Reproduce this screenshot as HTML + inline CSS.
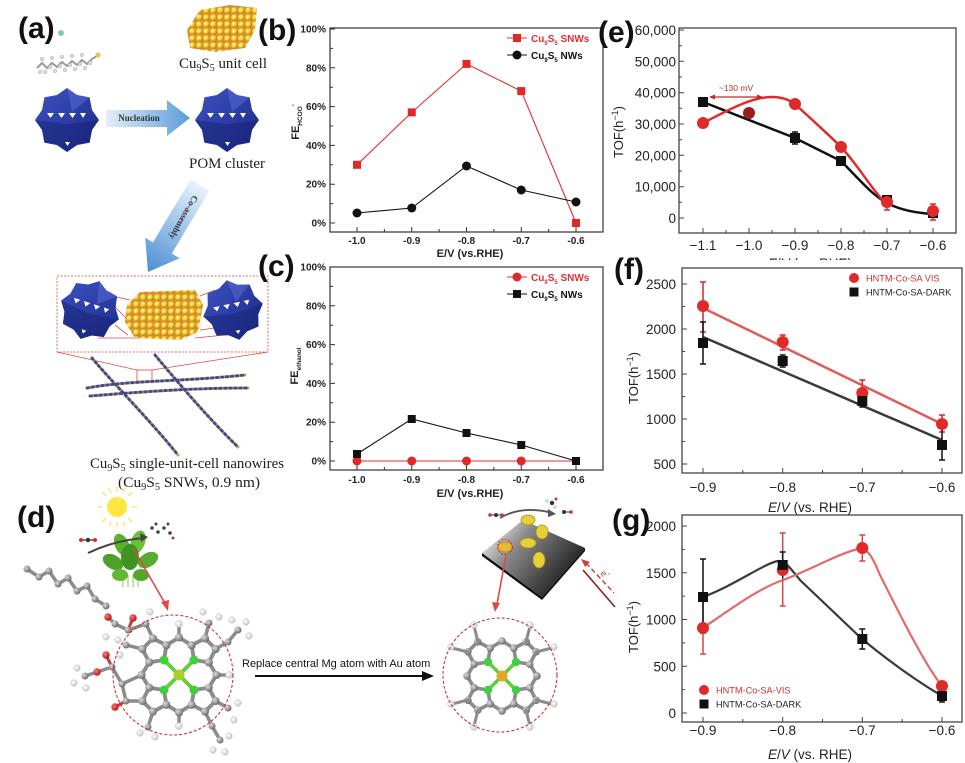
<!DOCTYPE html>
<html><head><meta charset="utf-8">
<style>
html,body{margin:0;padding:0;background:#fff;}
svg{display:block;}
text{font-family:"Liberation Sans",Arial,sans-serif;}
.serif{font-family:"Liberation Serif","Times New Roman",serif;}
</style></head><body>
<svg width="965" height="763" viewBox="0 0 965 763" xmlns="http://www.w3.org/2000/svg">
<defs>
 <radialGradient id="ys" cx="0.35" cy="0.35" r="0.7">
  <stop offset="0" stop-color="#fff7a8"/><stop offset="0.55" stop-color="#f0c428"/><stop offset="1" stop-color="#b87414"/>
 </radialGradient>
 <pattern id="cell" width="7" height="7" patternUnits="userSpaceOnUse">
  <rect width="7" height="7" fill="#d8902e"/>
  <circle cx="3.5" cy="3.5" r="3.4" fill="url(#ys)"/>
 </pattern>
 <linearGradient id="pom" x1="0" y1="0" x2="1" y2="1">
  <stop offset="0" stop-color="#3d52c4"/><stop offset="1" stop-color="#1b2886"/>
 </linearGradient>
 <linearGradient id="arrH" x1="0" y1="0" x2="1" y2="0">
  <stop offset="0" stop-color="#e6eff9"/><stop offset="1" stop-color="#5b9bd8"/>
 </linearGradient>
 <linearGradient id="arrD" x1="200" y1="185" x2="148" y2="272" gradientUnits="userSpaceOnUse">
  <stop offset="0" stop-color="#eaf2fb"/><stop offset="1" stop-color="#4a8fd6"/>
 </linearGradient>
 <radialGradient id="ga" cx="0.35" cy="0.35" r="0.7"><stop offset="0" stop-color="#dcdcdc"/><stop offset="1" stop-color="#666"/></radialGradient>
 <radialGradient id="gw" cx="0.35" cy="0.35" r="0.7"><stop offset="0" stop-color="#fff"/><stop offset="1" stop-color="#c8c8c8"/></radialGradient>
 <radialGradient id="gr" cx="0.35" cy="0.35" r="0.7"><stop offset="0" stop-color="#ff7a7a"/><stop offset="1" stop-color="#b01010"/></radialGradient>
 <linearGradient id="plate" x1="490" y1="525" x2="565" y2="585" gradientUnits="userSpaceOnUse">
  <stop offset="0" stop-color="#f0f0f0"/><stop offset="0.35" stop-color="#8a8a8a"/><stop offset="1" stop-color="#1e1e1e"/>
 </linearGradient>
 <g id="star">
  <polygon points="32,0 25,10 22.6,22.6 10,25 0,32 -10,25 -22.6,22.6 -25,10 -32,0 -25,-10 -22.6,-22.6 -10,-25 0,-32 10,-25 22.6,-22.6 25,-10" fill="url(#pom)"/>
  <polygon points="-32,0 -25,10 -22.6,22.6 -10,25 0,32 10,25 22.6,22.6 25,10 32,0 0,4" fill="#1a2578" opacity="0.55"/>
  <polygon points="0,-32 10,-25 22.6,-22.6 5,-8" fill="#5a6ed8" opacity="0.5"/>
  <g fill="#fff">
   <path d="M-20,-7 L-13,-7 L-16.5,-2 Z M-9,-7 L-2,-7 L-5.5,-2 Z M2,-7 L9,-7 L5.5,-2 Z M13,-7 L19,-7 L16,-2 Z M-2,22 L3,22 L0.5,26 Z"/>
  </g>
 </g>
 <g id="por">
  <g stroke="#8c8c8c" stroke-width="0.26" fill="none" stroke-linejoin="round">
   <path d="M1,-1 L0.843,-1.986 L1.733,-2.44 L2.44,-1.733 L1.986,-0.843 Z M0.843,-1.986 L0,-2.5 M1.986,-0.843 L2.5,0"/>
   <path d="M-1,-1 L-0.843,-1.986 L-1.733,-2.44 L-2.44,-1.733 L-1.986,-0.843 Z M-0.843,-1.986 L0,-2.5 M-1.986,-0.843 L-2.5,0"/>
   <path d="M1,1 L0.843,1.986 L1.733,2.44 L2.44,1.733 L1.986,0.843 Z M0.843,1.986 L0,2.5 M1.986,0.843 L2.5,0"/>
   <path d="M-1,1 L-0.843,1.986 L-1.733,2.44 L-2.44,1.733 L-1.986,0.843 Z M-0.843,1.986 L0,2.5 M-1.986,0.843 L-2.5,0"/>
  </g>
  <path d="M0,0 L1,-1 M0,0 L-1,-1 M0,0 L1,1 M0,0 L-1,1" stroke="#66cc44" stroke-width="0.26"/>
  <g fill="url(#ga)">
   <circle cx="0.843" cy="-1.986" r="0.27"/><circle cx="1.986" cy="-0.843" r="0.27"/><circle cx="1.733" cy="-2.44" r="0.27"/><circle cx="2.44" cy="-1.733" r="0.27"/>
   <circle cx="-0.843" cy="-1.986" r="0.27"/><circle cx="-1.986" cy="-0.843" r="0.27"/><circle cx="-1.733" cy="-2.44" r="0.27"/><circle cx="-2.44" cy="-1.733" r="0.27"/>
   <circle cx="0.843" cy="1.986" r="0.27"/><circle cx="1.986" cy="0.843" r="0.27"/><circle cx="1.733" cy="2.44" r="0.27"/><circle cx="2.44" cy="1.733" r="0.27"/>
   <circle cx="-0.843" cy="1.986" r="0.27"/><circle cx="-1.986" cy="0.843" r="0.27"/><circle cx="-1.733" cy="2.44" r="0.27"/><circle cx="-2.44" cy="1.733" r="0.27"/>
   <circle cx="0" cy="-2.5" r="0.27"/><circle cx="2.5" cy="0" r="0.27"/><circle cx="0" cy="2.5" r="0.27"/><circle cx="-2.5" cy="0" r="0.27"/>
  </g>
  <g fill="#3fd040">
   <circle cx="1" cy="-1" r="0.3"/><circle cx="-1" cy="-1" r="0.3"/><circle cx="1" cy="1" r="0.3"/><circle cx="-1" cy="1" r="0.3"/>
  </g>
 </g>
</defs>
<rect width="965" height="763" fill="#fff"/>

<!-- ================= PANEL A ================= -->
<text x="18" y="38" font-size="30" font-weight="bold" fill="#111">(a)</text>
<circle cx="61" cy="33" r="3" fill="#7fc8c0"/>
<polyline points="37,68 42,63 47,68 52,63 57,67 62,62 67,66 72,61 77,65 82,60 87,64 92,59 97,56" fill="none" stroke="#9a9a9a" stroke-width="2"/>
<g fill="#ddd" stroke="#999" stroke-width="0.4">
 <circle cx="40" cy="72" r="1.8"/><circle cx="45" cy="72" r="1.8"/><circle cx="50" cy="67" r="1.8"/><circle cx="55" cy="71" r="1.8"/><circle cx="60" cy="66" r="1.8"/><circle cx="65" cy="70" r="1.8"/><circle cx="70" cy="65" r="1.8"/><circle cx="75" cy="69" r="1.8"/><circle cx="80" cy="64" r="1.8"/><circle cx="85" cy="68" r="1.8"/><circle cx="90" cy="63" r="1.8"/>
 <circle cx="42" cy="59" r="1.8"/><circle cx="52" cy="58" r="1.8"/><circle cx="62" cy="57" r="1.8"/><circle cx="72" cy="56" r="1.8"/><circle cx="82" cy="55" r="1.8"/>
</g>
<circle cx="98" cy="55" r="2.6" fill="#d8d040"/>

<path d="M187,30 L200,10 L230,5 L257,8 L255,30 L245,48 L215,52 L190,48 Z" fill="url(#cell)"/>
<text class="serif" x="179" y="68" font-size="15" textLength="88" lengthAdjust="spacingAndGlyphs" fill="#222">Cu<tspan font-size="10" dy="3">9</tspan><tspan dy="-3">S</tspan><tspan font-size="10" dy="3">5</tspan><tspan dy="-3"> unit cell</tspan></text>

<use href="#star" transform="translate(67,120)"/>
<use href="#star" transform="translate(227,120)"/>
<polygon points="106,110 167,110 167,100 190,118 167,136 167,127 106,127" fill="url(#arrH)"/>
<text class="serif" x="139" y="121" font-size="9" font-weight="bold" text-anchor="middle" fill="#333">Nucleation</text>
<text class="serif" x="227" y="168" font-size="15" text-anchor="middle" textLength="76" lengthAdjust="spacingAndGlyphs" fill="#222">POM cluster</text>

<polygon points="190.6,179.4 209.4,190.6 171.8,253.6 179.6,258.3 148,272 145.2,237.7 153,242.4" fill="url(#arrD)"/>
<text class="serif" transform="translate(181,216) rotate(120)" font-size="9" font-weight="bold" text-anchor="middle" fill="#333">Co-assembly</text>

<rect x="57" y="276" width="211" height="76" fill="none" stroke="#e06a6a" stroke-width="1" stroke-dasharray="2 1.5"/>
<g stroke="#e04848" stroke-width="0.8" fill="none">
 <path d="M112,296 L130,300 M115,325 L128,335 M98,338 L140,338 M200,296 L215,290 M200,330 L215,328 M195,338 L225,335 M108,300 L126,318"/>
 <path d="M57,352 L137,370 M268,352 L152,370"/>
 <rect x="137" y="370" width="15" height="11"/>
</g>
<use href="#star" transform="translate(90,310) rotate(18) scale(0.95)"/>
<use href="#star" transform="translate(233,310) rotate(-12) scale(0.95)"/>
<path d="M127,305 L140,292 L195,290 L203,305 L198,332 L180,340 L135,338 L125,322 Z" fill="url(#cell)"/>

<g fill="none" stroke-linecap="round">
 <g stroke="#c9a24a" stroke-width="3">
  <path d="M92,358 C110,380 150,420 178,455"/>
  <path d="M155,355 C180,385 210,420 238,447"/>
  <path d="M87,388 C130,380 180,382 245,375"/>
  <path d="M90,396 C140,392 190,388 248,388"/>
 </g>
 <g stroke="#3a4a9a" stroke-width="2.8" stroke-dasharray="1.5 3.5">
  <path d="M92,358 C110,380 150,420 178,455"/>
  <path d="M155,355 C180,385 210,420 238,447"/>
  <path d="M87,388 C130,380 180,382 245,375"/>
  <path d="M90,396 C140,392 190,388 248,388"/>
 </g>
</g>
<text class="serif" x="90" y="468" font-size="15" textLength="194" lengthAdjust="spacingAndGlyphs" fill="#222">Cu<tspan font-size="10" dy="3">9</tspan><tspan dy="-3">S</tspan><tspan font-size="10" dy="3">5</tspan><tspan dy="-3"> single-unit-cell nanowires</tspan></text>
<text class="serif" x="118" y="487" font-size="15" textLength="142" lengthAdjust="spacingAndGlyphs" fill="#222">(Cu<tspan font-size="10" dy="3">9</tspan><tspan dy="-3">S</tspan><tspan font-size="10" dy="3">5</tspan><tspan dy="-3"> SNWs, 0.9 nm)</tspan></text>

<!-- ================= PANEL B ================= -->
<text x="258" y="40" font-size="30" font-weight="bold" fill="#111">(b)</text>
<rect x="330" y="28" width="273" height="204" fill="none" stroke="#333" stroke-width="1.2"/>
<g stroke="#333" stroke-width="1">
 <path d="M330,223h5 M330,184.2h5 M330,145.4h5 M330,106.6h5 M330,67.8h5 M330,29h5 M330,203.6h3 M330,164.8h3 M330,126h3 M330,87.2h3 M330,48.4h3"/>
 <path d="M357,232v-5 M411.75,232v-5 M466.5,232v-5 M521.25,232v-5 M576,232v-5 M384.4,232v-3 M439.1,232v-3 M493.9,232v-3 M548.6,232v-3"/>
</g>
<g font-size="10" font-weight="bold" fill="#222" text-anchor="end">
 <text x="326" y="226.5">0%</text><text x="326" y="187.7">20%</text><text x="326" y="148.9">40%</text><text x="326" y="110.1">60%</text><text x="326" y="71.3">80%</text><text x="326" y="32.5">100%</text>
</g>
<g font-size="10" font-weight="bold" fill="#222" text-anchor="middle">
 <text x="357" y="244">-1.0</text><text x="411.75" y="244">-0.9</text><text x="466.5" y="244">-0.8</text><text x="521.25" y="244">-0.7</text><text x="576" y="244">-0.6</text>
</g>
<text x="470" y="257" font-size="11" font-weight="bold" text-anchor="middle" fill="#222">E/V (vs.RHE)</text>
<text transform="translate(299,122) rotate(-90)" font-size="11" font-weight="bold" text-anchor="middle" fill="#222">FE<tspan font-size="6.5" dy="3">HCOO</tspan><tspan font-size="6" dy="-7">-</tspan></text>
<polyline points="357,164.8 411.75,112.4 466.5,63.9 521.25,91.1 576,223" fill="none" stroke="#e03030" stroke-width="1.1"/>
<polyline points="357,213 411.75,208 466.5,166 521.25,190 576,202" fill="none" stroke="#111" stroke-width="1.1"/>
<g fill="#e02828">
 <rect x="353" y="160.8" width="8" height="8"/><rect x="407.75" y="108.4" width="8" height="8"/><rect x="462.5" y="59.9" width="8" height="8"/><rect x="517.25" y="87.1" width="8" height="8"/><rect x="572" y="219" width="8" height="8"/>
</g>
<g fill="#111">
 <circle cx="357" cy="213" r="4.5"/><circle cx="411.75" cy="208" r="4.5"/><circle cx="466.5" cy="166" r="4.5"/><circle cx="521.25" cy="190" r="4.5"/><circle cx="576" cy="202" r="4.5"/>
</g>
<line x1="507" y1="38" x2="527" y2="38" stroke="#e03030" stroke-width="1.1"/>
<rect x="513" y="34" width="8" height="8" fill="#e02828"/>
<text x="531" y="42" font-size="10" font-weight="bold" fill="#e03030">Cu<tspan font-size="6" dy="3">9</tspan><tspan dy="-3">S</tspan><tspan font-size="6" dy="3">5</tspan><tspan dy="-3"> SNWs</tspan></text>
<line x1="507" y1="55" x2="527" y2="55" stroke="#111" stroke-width="1.1"/>
<circle cx="517" cy="55" r="4.5" fill="#111"/>
<text x="531" y="59" font-size="10" font-weight="bold" fill="#111">Cu<tspan font-size="6" dy="3">9</tspan><tspan dy="-3">S</tspan><tspan font-size="6" dy="3">5</tspan><tspan dy="-3"> NWs</tspan></text>

<!-- ================= PANEL C ================= -->
<text x="258" y="276" font-size="30" font-weight="bold" fill="#111">(c)</text>
<rect x="330" y="267" width="273" height="203" fill="none" stroke="#333" stroke-width="1.2"/>
<g stroke="#333" stroke-width="1">
 <path d="M330,461h5 M330,422.2h5 M330,383.4h5 M330,344.6h5 M330,305.8h5 M330,441.6h3 M330,402.8h3 M330,364h3 M330,325.2h3 M330,286.4h3"/>
 <path d="M357,470v-5 M411.75,470v-5 M466.5,470v-5 M521.25,470v-5 M576,470v-5 M384.4,470v-3 M439.1,470v-3 M493.9,470v-3 M548.6,470v-3"/>
</g>
<g font-size="10" font-weight="bold" fill="#222" text-anchor="end">
 <text x="326" y="464.5">0%</text><text x="326" y="425.7">20%</text><text x="326" y="386.9">40%</text><text x="326" y="348.1">60%</text><text x="326" y="309.3">80%</text><text x="326" y="270.5">100%</text>
</g>
<g font-size="10" font-weight="bold" fill="#222" text-anchor="middle">
 <text x="357" y="483">-1.0</text><text x="411.75" y="483">-0.9</text><text x="466.5" y="483">-0.8</text><text x="521.25" y="483">-0.7</text><text x="576" y="483">-0.6</text>
</g>
<text x="470" y="497" font-size="11" font-weight="bold" text-anchor="middle" fill="#222">E/V (vs.RHE)</text>
<text transform="translate(298,366) rotate(-90)" font-size="11" font-weight="bold" text-anchor="middle" fill="#222">FE<tspan font-size="6.5" dy="3">ethanol</tspan></text>
<line x1="357" y1="461" x2="576" y2="461" stroke="#e03030" stroke-width="1.1"/>
<polyline points="357,454 411.75,419 466.5,433 521.25,445 576,461" fill="none" stroke="#111" stroke-width="1.1"/>
<g fill="#e02828">
 <circle cx="357" cy="461" r="4.5"/><circle cx="411.75" cy="461" r="4.5"/><circle cx="466.5" cy="461" r="4.5"/><circle cx="521.25" cy="461" r="4.5"/>
</g>
<g fill="#111">
 <rect x="353" y="450" width="8" height="8"/><rect x="407.75" y="415" width="8" height="8"/><rect x="462.5" y="429" width="8" height="8"/><rect x="517.25" y="441" width="8" height="8"/><rect x="572" y="457" width="8" height="8"/>
</g>
<line x1="507" y1="277" x2="527" y2="277" stroke="#e03030" stroke-width="1.1"/>
<circle cx="517" cy="277" r="4.5" fill="#e02828"/>
<text x="531" y="281" font-size="10" font-weight="bold" fill="#e03030">Cu<tspan font-size="6" dy="3">9</tspan><tspan dy="-3">S</tspan><tspan font-size="6" dy="3">5</tspan><tspan dy="-3"> SNWs</tspan></text>
<line x1="507" y1="294" x2="527" y2="294" stroke="#111" stroke-width="1.1"/>
<rect x="513" y="290" width="8" height="8" fill="#111"/>
<text x="531" y="298" font-size="10" font-weight="bold" fill="#111">Cu<tspan font-size="6" dy="3">9</tspan><tspan dy="-3">S</tspan><tspan font-size="6" dy="3">5</tspan><tspan dy="-3"> NWs</tspan></text>

<!-- ================= PANEL E ================= -->
<text x="810" y="268" font-size="13.5" text-anchor="middle" fill="#222"><tspan font-style="italic">E</tspan>/<tspan font-style="italic">V</tspan> (vs. RHE)</text>
<rect x="640" y="260" width="325" height="14" fill="#fff"/>
<text x="598" y="42" font-size="30" font-weight="bold" fill="#111">(e)</text>
<rect x="679" y="28" width="277" height="205" fill="none" stroke="#444" stroke-width="1.3"/>
<g stroke="#444" stroke-width="1">
 <path d="M679,218h5 M679,186.7h5 M679,155.3h5 M679,124h5 M679,92.7h5 M679,61.3h5 M679,30h5 M679,202.3h3 M679,171h3 M679,139.7h3 M679,108.3h3 M679,77h3 M679,45.7h3"/>
 <path d="M703,233v-5 M749,233v-5 M795,233v-5 M841,233v-5 M887,233v-5 M933,233v-5 M726,233v-3 M772,233v-3 M818,233v-3 M864,233v-3 M910,233v-3"/>
</g>
<g font-size="13.5" fill="#222" text-anchor="end">
 <text x="676" y="223">0</text><text x="676" y="191.7">10,000</text><text x="676" y="160.3">20,000</text><text x="676" y="129">30,000</text><text x="676" y="97.7">40,000</text><text x="676" y="66.3">50,000</text><text x="676" y="35">60,000</text>
</g>
<g font-size="13.5" fill="#222" text-anchor="middle">
 <text x="703" y="250">−1.1</text><text x="749" y="250">−1.0</text><text x="795" y="250">−0.9</text><text x="841" y="250">−0.8</text><text x="887" y="250">−0.7</text><text x="933" y="250">−0.6</text>
</g>
<text transform="translate(623,132) rotate(-90)" font-size="13" text-anchor="middle" fill="#222">TOF(h<tspan font-size="9" dy="-5">−1</tspan><tspan dy="5">)</tspan></text>
<path d="M703,102 L795,138 L841,161 C860,180 872,195 887,203 C900,210 915,213 933,214" fill="none" stroke="#111" stroke-width="2.5"/>
<path d="M703,123 C725,112 750,97 772,97 C782,97 790,100 796,105 C810,118 828,134 841,147 C858,165 872,190 887,205" fill="none" stroke="#e02a2a" stroke-width="2.5"/>
<g stroke="#d03030" stroke-width="1.5"><path d="M887,196v14 M884,196h6 M884,210h6 M933,204v16 M930,204h6 M930,220h6"/></g>
<g stroke="#111" stroke-width="1.5"><path d="M795,132v12 M792,132h6 M792,144h6"/></g>
<g fill="#111">
 <rect x="698" y="97" width="10" height="10"/><rect x="790" y="133" width="10" height="10"/><rect x="836" y="156" width="10" height="10"/><rect x="882" y="195" width="10" height="10"/><rect x="928" y="208" width="10" height="10"/>
</g>
<g fill="#e02a2a">
 <circle cx="703" cy="123" r="6"/><circle cx="795" cy="104" r="6"/><circle cx="841" cy="147" r="6"/><circle cx="887" cy="202" r="6"/><circle cx="933" cy="211" r="6"/>
</g>
<circle cx="749" cy="113" r="6" fill="#9a1c1c"/>
<g stroke="#c02828" stroke-width="1.2" fill="#c02828">
 <line x1="712" y1="97" x2="760" y2="97"/>
 <path d="M709,97 L715,94.5 L715,99.5 Z M763,97 L757,94.5 L757,99.5 Z" stroke="none"/>
</g>
<text x="736" y="91" font-size="8.5" text-anchor="middle" fill="#c03030">~130 mV</text>

<!-- ================= PANEL F ================= -->
<text x="614" y="279" font-size="30" font-weight="bold" fill="#111">(f)</text>
<rect x="682" y="268" width="280" height="205" fill="none" stroke="#444" stroke-width="1.3"/>
<g stroke="#444" stroke-width="1">
 <path d="M682,464h5 M682,419h5 M682,374h5 M682,329h5 M682,284h5 M682,441.5h3 M682,396.5h3 M682,351.5h3 M682,306.5h3"/>
 <path d="M703,473v-5 M782.7,473v-5 M862.3,473v-5 M942,473v-5 M742.8,473v-3 M822.5,473v-3 M902.2,473v-3"/>
</g>
<g font-size="13.5" fill="#222" text-anchor="end">
 <text x="676" y="469">500</text><text x="676" y="424">1000</text><text x="676" y="379">1500</text><text x="676" y="334">2000</text><text x="676" y="289">2500</text>
</g>
<g font-size="13.5" fill="#222" text-anchor="middle">
 <text x="703" y="492">−0.9</text><text x="782.7" y="492">−0.8</text><text x="862.3" y="492">−0.7</text><text x="942" y="492">−0.6</text>
</g>
<text x="810" y="512" font-size="13.5" text-anchor="middle" fill="#222"><tspan font-style="italic">E</tspan>/<tspan font-style="italic">V</tspan> (vs. RHE)</text>
<text transform="translate(638,378) rotate(-90)" font-size="13" text-anchor="middle" fill="#222">TOF(h<tspan font-size="9" dy="-5">−1</tspan><tspan dy="5">)</tspan></text>
<line x1="703" y1="337" x2="942" y2="440" stroke="#3a3a3a" stroke-width="2.5"/>
<line x1="703" y1="308" x2="942" y2="424" stroke="#e45a5a" stroke-width="2.5"/>
<g stroke="#d02a2a" stroke-width="1.5">
 <path d="M703,282v50 M700,282h6 M700,332h6 M782.7,335v15 M779.7,335h6 M779.7,350h6 M862.3,380v23 M859.3,380h6 M859.3,403h6 M942,415v17 M939,415h6 M939,432h6"/>
</g>
<g stroke="#111" stroke-width="1.5">
 <path d="M703,322v42 M700,322h6 M700,364h6 M782.7,355v12 M779.7,355h6 M779.7,367h6 M862.3,395v12 M859.3,395h6 M859.3,407h6 M942,428v32 M939,428h6 M939,460h6"/>
</g>
<g fill="#e02a2a">
 <circle cx="703" cy="306" r="6"/><circle cx="782.7" cy="342" r="6"/><circle cx="862.3" cy="393" r="6"/><circle cx="942" cy="424" r="6"/>
</g>
<g fill="#111">
 <rect x="698" y="338" width="10" height="10"/><rect x="777.7" y="356" width="10" height="10"/><rect x="857.3" y="396" width="10" height="10"/><rect x="937" y="440" width="10" height="10"/>
</g>
<circle cx="854" cy="278" r="5" fill="#e02a2a"/>
<text x="866" y="281.5" font-size="9.2" fill="#d03030">HNTM-Co-SA VIS</text>
<rect x="849.5" y="287.5" width="9" height="9" fill="#111"/>
<text x="866" y="295.5" font-size="9.2" fill="#222">HNTM-Co-SA-DARK</text>

<!-- ================= PANEL G ================= -->
<text x="612" y="530" font-size="30" font-weight="bold" fill="#111">(g)</text>
<rect x="682" y="515" width="280" height="207" fill="none" stroke="#444" stroke-width="1.3"/>
<g stroke="#444" stroke-width="1">
 <path d="M682,713h5 M682,666.25h5 M682,619.5h5 M682,572.75h5 M682,526h5 M682,689.6h3 M682,642.9h3 M682,596.1h3 M682,549.4h3"/>
 <path d="M703,722v-5 M782.7,722v-5 M862.3,722v-5 M942,722v-5 M742.8,722v-3 M822.5,722v-3 M902.2,722v-3"/>
</g>
<g font-size="13.5" fill="#222" text-anchor="end">
 <text x="676" y="718">0</text><text x="676" y="671.25">500</text><text x="676" y="624.5">1000</text><text x="676" y="577.75">1500</text><text x="676" y="531">2000</text>
</g>
<g font-size="13.5" fill="#222" text-anchor="middle">
 <text x="703" y="735">−0.9</text><text x="782.7" y="735">−0.8</text><text x="862.3" y="735">−0.7</text><text x="942" y="735">−0.6</text>
</g>
<text x="810" y="759" font-size="13.5" text-anchor="middle" fill="#222"><tspan font-style="italic">E</tspan>/<tspan font-style="italic">V</tspan> (vs. RHE)</text>
<text transform="translate(638,627) rotate(-90)" font-size="13" text-anchor="middle" fill="#222">TOF(h<tspan font-size="9" dy="-5">−1</tspan><tspan dy="5">)</tspan></text>
<path d="M703,597 C735,585 765,563 778,561 C785,560 790,568 800,580 L862,639 C890,662 915,680 942,696" fill="none" stroke="#3a3a3a" stroke-width="2.2"/>
<path d="M703,628 C735,606 760,588 783,580 C810,570 840,553 858,549 C868,548 872,556 880,575 C900,615 925,665 942,686" fill="none" stroke="#e26a6a" stroke-width="2.2"/>
<g stroke="#d04848" stroke-width="1.5">
 <path d="M703,600v54 M700,654h6 M782.7,533v73 M779.7,533h6 M779.7,606h6 M862.3,535v26 M859.3,535h6 M859.3,561h6"/>
</g>
<g stroke="#111" stroke-width="1.5">
 <path d="M703,559v74 M700,559h6 M700,633h6 M782.7,552v26 M779.7,552h6 M862.3,629v20 M859.3,629h6 M859.3,649h6 M942,691v11 M939,702h6"/>
</g>
<g fill="#e02a2a">
 <circle cx="703" cy="628" r="6"/><circle cx="782.7" cy="570" r="6"/><circle cx="862.3" cy="548" r="6"/><circle cx="942" cy="686" r="6"/>
</g>
<g fill="#111">
 <rect x="698" y="592" width="10" height="10"/><rect x="777.7" y="560" width="10" height="10"/><rect x="857.3" y="634" width="10" height="10"/><rect x="937" y="691" width="10" height="10"/>
</g>
<circle cx="704" cy="690" r="5" fill="#e02a2a"/>
<text x="716" y="693.5" font-size="9.2" fill="#d03030">HNTM-Co-SA-VIS</text>
<rect x="699.5" y="699.5" width="9" height="9" fill="#111"/>
<text x="716" y="707.5" font-size="9.2" fill="#222">HNTM-Co-SA-DARK</text>

<!-- ================= PANEL D ================= -->
<text x="17" y="527" font-size="30" font-weight="bold" fill="#111">(d)</text>
<g stroke="#ffe680" stroke-width="1.6">
 <path d="M117,492v-5 M117,522v5 M102,507h-5 M132,507h5 M106,496l-4,-4 M128,496l4,-4 M106,518l-4,4 M128,518l4,4 M111,493l-2,-5 M123,493l2,-5 M111,521l-2,5 M123,521l2,5"/>
</g>
<circle cx="117" cy="507" r="10" fill="#ffe640"/>
<g>
 <path d="M123,575v12 M128,575v12 M133,575v12 M138,575v12" stroke="#9bd070" stroke-width="1.2"/>
 <ellipse cx="122" cy="545" rx="7" ry="12" transform="rotate(-25 122 545)" fill="#5cb030"/>
 <ellipse cx="138" cy="542" rx="7" ry="12" transform="rotate(20 138 542)" fill="#6cc03a"/>
 <ellipse cx="113" cy="562" rx="7" ry="11" transform="rotate(-60 113 562)" fill="#4ea028"/>
 <ellipse cx="148" cy="560" rx="7" ry="11" transform="rotate(60 148 560)" fill="#58ac30"/>
 <ellipse cx="130" cy="557" rx="9" ry="13" fill="#3f9420"/>
 <ellipse cx="120" cy="575" rx="8" ry="6" fill="#62b835"/>
 <ellipse cx="141" cy="575" rx="8" ry="6" fill="#52a82e"/>
</g>
<path d="M88,553 Q115,540 145,538" fill="none" stroke="#444" stroke-width="2"/>
<path d="M148,537 L140,533 L141,542 Z" fill="#444"/>
<g><line x1="80" y1="540" x2="96" y2="540" stroke="#555" stroke-width="1.5"/><circle cx="81" cy="540" r="2" fill="#d03030"/><circle cx="88" cy="540" r="2.2" fill="#333"/><circle cx="95" cy="540" r="2" fill="#d03030"/></g>
<g fill="#444"><circle cx="152" cy="528" r="1.8"/><circle cx="158" cy="532" r="1.8"/><circle cx="164" cy="528" r="1.8"/><circle cx="170" cy="533" r="1.8"/><circle cx="156" cy="524" r="1.5"/><circle cx="168" cy="524" r="1.5"/><circle cx="173" cy="538" r="1.5" fill="#c33"/></g>
<line x1="133" y1="548" x2="166" y2="605" stroke="#e04848" stroke-width="1.6"/>
<path d="M168,611 L161,602 L169,600 Z" fill="#e04848"/>

<g stroke="#8c8c8c" stroke-width="3.5" fill="none" stroke-linejoin="round" stroke-linecap="round">
 <polyline points="27,569 39,577 49,571 58,584 68,578 77,591 87,586 95,599 106,606"/>
 <path d="M153,638.4 L146,624 L128,630 L115,624 L108,617"/>
 <path d="M179,637.5 L179,625 M216.5,675 L228,675 M179,712.5 L179,725"/>
 <path d="M205,638.4 L209,623 M215.6,649 L228,642 L238,630 M215.6,701 L228,708 M205,711.6 L212,726 L220,740 M153,711.6 L148,727"/>
 <path d="M142.4,701 L126,701 L122,684 L141.5,675 M122,684 L112,667 L97,672 L85,676 M142.4,649 L126,645"/>
</g>
<g stroke="#c04040" stroke-width="3" stroke-linecap="round"><path d="M128,630 L133,618 M126,701 L115,707 M112,667 L106,655"/></g>
<g fill="url(#ga)">
 <circle cx="27" cy="569" r="3.5"/><circle cx="39" cy="577" r="3.5"/><circle cx="49" cy="571" r="3.5"/><circle cx="58" cy="584" r="3.5"/><circle cx="68" cy="578" r="3.5"/><circle cx="77" cy="591" r="3.5"/><circle cx="87" cy="586" r="3.5"/><circle cx="95" cy="599" r="3.5"/><circle cx="106" cy="606" r="3.5"/>
 <circle cx="146" cy="624" r="3.5"/><circle cx="128" cy="630" r="3.5"/><circle cx="115" cy="624" r="3.5"/>
 <circle cx="209" cy="623" r="3.5"/><circle cx="228" cy="642" r="3.5"/><circle cx="238" cy="630" r="3.5"/><circle cx="228" cy="708" r="3.5"/><circle cx="212" cy="726" r="3.5"/><circle cx="220" cy="740" r="3.5"/><circle cx="148" cy="727" r="3.5"/>
 <circle cx="126" cy="701" r="3.5"/><circle cx="122" cy="684" r="3.5"/><circle cx="112" cy="667" r="3.5"/><circle cx="85" cy="676" r="3.5"/><circle cx="126" cy="645" r="3.5"/>
</g>
<g fill="url(#gr)">
 <circle cx="108" cy="617" r="3.7"/><circle cx="133" cy="618" r="3.7"/><circle cx="115" cy="707" r="3.7"/><circle cx="106" cy="655" r="3.7"/><circle cx="97" cy="672" r="3.7"/>
</g>
<g fill="url(#gw)" stroke="#aaa" stroke-width="0.4">
 <circle cx="179" cy="624" r="3.5"/><circle cx="229" cy="675" r="3.5"/><circle cx="179" cy="726" r="3.5"/>
 <circle cx="203" cy="612" r="3.2"/><circle cx="219" cy="617" r="3.2"/><circle cx="246" cy="622" r="3.2"/><circle cx="249" cy="636" r="3.2"/><circle cx="232" cy="620" r="3.2"/>
 <circle cx="238" cy="703" r="3.2"/><circle cx="234" cy="720" r="3.2"/><circle cx="229" cy="736" r="3.2"/><circle cx="225" cy="752" r="3.2"/><circle cx="213" cy="750" r="3.2"/>
 <circle cx="140" cy="733" r="3.2"/><circle cx="155" cy="737" r="3.2"/><circle cx="77" cy="668" r="3.2"/><circle cx="74" cy="683" r="3.2"/><circle cx="86" cy="688" r="3.2"/>
 <circle cx="118" cy="640" r="3.2"/><circle cx="120" cy="655" r="3.2"/><circle cx="106" cy="637" r="3.2"/><circle cx="150" cy="612" r="3.2"/>
</g>
<use href="#por" transform="translate(179,675) scale(15)"/>
<circle cx="179" cy="675" r="5.5" fill="#a8d030"/>
<circle cx="173" cy="675" r="60" fill="none" stroke="#c03838" stroke-width="1.1" stroke-dasharray="3 2"/>

<text x="242" y="667" font-size="11" fill="#111">Replace central Mg atom with Au atom</text>
<line x1="255" y1="676" x2="424" y2="676" stroke="#111" stroke-width="2"/>
<path d="M434,676 L422,671 L422,681 Z" fill="#111"/>

<polygon points="482,556 542,600 585,551 585,548 542,597 482,553" fill="#111"/>
<polygon points="482,553 523,520 585,548 542,597" fill="url(#plate)"/>
<g fill="#e6d03a" stroke="#a88a18" stroke-width="0.8">
 <ellipse cx="528" cy="520" rx="7" ry="5"/><ellipse cx="542" cy="532" rx="6" ry="7"/><ellipse cx="528" cy="543" rx="8" ry="5"/><ellipse cx="539" cy="560" rx="6" ry="8"/><ellipse cx="505" cy="547" rx="7" ry="5" fill="#e8b830"/>
</g>
<circle cx="505" cy="547" r="7.5" fill="none" stroke="#d03030" stroke-width="1" stroke-dasharray="2 1.5"/>
<path d="M500,518 Q522,505 553,513" fill="none" stroke="#555" stroke-width="1.8"/>
<path d="M556,514 L548,509 L548,517 Z" fill="#555"/>
<g><line x1="490" y1="515" x2="503" y2="515" stroke="#555" stroke-width="1.2"/><circle cx="490" cy="515" r="1.8" fill="#c33"/><circle cx="496" cy="515" r="2" fill="#333"/><circle cx="502" cy="515" r="1.8" fill="#c33"/></g>
<g><circle cx="552" cy="503" r="2.2" fill="#333"/><circle cx="547" cy="501" r="1.5" fill="#ddd" stroke="#999" stroke-width="0.3"/><circle cx="556" cy="499" r="1.5" fill="#c33"/><circle cx="555" cy="507" r="1.5" fill="#ddd" stroke="#999" stroke-width="0.3"/></g>
<g><line x1="563" y1="512" x2="572" y2="512" stroke="#555" stroke-width="1.2"/><circle cx="564" cy="512" r="2" fill="#333"/><circle cx="571" cy="512" r="1.8" fill="#c33"/></g>
<line x1="506" y1="555" x2="497" y2="604" stroke="#e04848" stroke-width="1.6"/>
<path d="M495,612 L492,602 L500,603 Z" fill="#e04848"/>
<line x1="583" y1="570" x2="615" y2="607" stroke="#8a1818" stroke-width="1.5"/>
<line x1="586" y1="563" x2="614" y2="593" stroke="#d04040" stroke-width="1.5" stroke-dasharray="5 3"/>
<path d="M581,559 L590,562 L585,567 Z" fill="#d04040"/>
<text transform="translate(600,574) rotate(42)" font-size="9" fill="#c03030">e<tspan font-size="6" dy="-4">−</tspan></text>

<use href="#por" transform="translate(502,676) scale(14)"/>
<g stroke="#8c8c8c" stroke-width="3" stroke-linecap="round">
 <path d="M526,642 L530,626 M536,652 L552,648 M526,710 L530,726 M536,700 L552,704 M478,642 L474,626 M468,652 L452,648 M478,710 L474,726 M468,700 L452,704"/>
</g>
<g fill="url(#gw)" stroke="#aaa" stroke-width="0.4">
 <circle cx="530" cy="625" r="3.3"/><circle cx="554" cy="647" r="3.3"/><circle cx="530" cy="727" r="3.3"/><circle cx="554" cy="704" r="3.3"/>
 <circle cx="474" cy="625" r="3.3"/><circle cx="451" cy="647" r="3.3"/><circle cx="474" cy="727" r="3.3"/><circle cx="451" cy="704" r="3.3"/>
</g>
<circle cx="502" cy="676" r="5.5" fill="#e0a828"/>
<circle cx="500" cy="675" r="57" fill="none" stroke="#c03838" stroke-width="1.1" stroke-dasharray="3 2"/>
</svg>
</body></html>
